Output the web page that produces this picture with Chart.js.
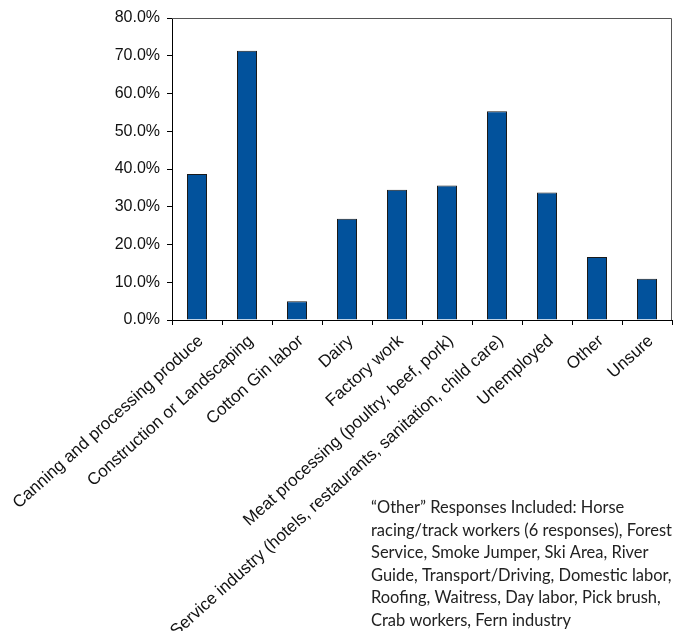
<!DOCTYPE html>
<html><head><meta charset="utf-8">
<script src="https://cdn.jsdelivr.net/npm/chart.js@4/dist/chart.umd.min.js"></script>
<style>html,body{margin:0;padding:0;background:#fff;overflow:hidden}</style>
</head><body>
<canvas id="c" width="673" height="631"></canvas>
<script>
const categories = [
  'Canning and processing produce',
  'Construction or Landscaping',
  'Cotton Gin labor',
  'Dairy',
  'Factory work',
  'Meat processing (poultry, beef, pork)',
  'Service industry (hotels, restaurants, sanitation, child care)',
  'Unemployed',
  'Other',
  'Unsure'
];
const values = [38.7, 71.3, 5.0, 26.8, 34.5, 35.6, 55.3, 33.8, 16.7, 10.9];
const yMin = 0, yMax = 80, yStep = 10;
const noteLines = [
  '\u201COther\u201D Responses Included: Horse',
  'racing/track workers (6 responses), Forest',
  'Service, Smoke Jumper, Ski Area, River',
  'Guide, Transport/Driving, Domestic labor,',
  'Roofing, Waitress, Day labor, Pick brush,',
  'Crab workers, Fern industry'
];

Chart.defaults.font.family = '"Liberation Sans", Arial, sans-serif';
Chart.defaults.color = '#111';

const framePlugin = {
  id: 'frame',
  afterDatasetsDraw(chart) {
    const {ctx, chartArea: a} = chart;
    ctx.save();
    ctx.strokeStyle = '#555';
    ctx.lineWidth = 1;
    ctx.beginPath();
    ctx.moveTo(a.left, a.top + 0.5);
    ctx.lineTo(a.right - 0.5, a.top + 0.5);
    ctx.lineTo(a.right - 0.5, a.bottom);
    ctx.stroke();
    ctx.restore();
  },
  afterDraw(chart) {
    const ctx = chart.ctx;
    ctx.save();
    ctx.fillStyle = '#222';
    ctx.font = '16px Lato';
    const w = ctx.measureText(noteLines[4]).width;
    const size = 16 * 290 / w;
    ctx.font = size.toFixed(2) + 'px Lato';
    ctx.textBaseline = 'middle';
    ctx.textAlign = 'left';
    noteLines.forEach((t, i) => ctx.fillText(t, 371, 508 + i * 22.5));
    ctx.restore();
  }
};

new Chart(document.getElementById('c'), {
  type: 'bar',
  data: {
    labels: categories,
    datasets: [{
      data: values,
      backgroundColor: '#02529c',
      borderColor: '#1a1a1a',
      borderWidth: 1,
      barPercentage: 0.4,
      categoryPercentage: 1.0
    }]
  },
  options: {
    responsive: false,
    animation: false,
    layout: {padding: {top: 18, right: 1, left: 0, bottom: 0}},
    plugins: {legend: {display: false}, tooltip: {enabled: false}},
    scales: {
      x: {
        grid: {display: true, drawOnChartArea: false, drawTicks: true, tickLength: 5, color: '#000', offset: true},
        border: {display: true, color: '#000', width: 1},
        ticks: {autoSkip: false, minRotation: 42, maxRotation: 42, padding: 6, labelOffset: 4, font: {size: 17}, color: '#111'},
        afterFit(s) { s.height = 311; s.paddingLeft = 0; s.paddingRight = 0; }
      },
      y: {
        min: yMin, max: yMax,
        grid: {display: true, drawOnChartArea: false, drawTicks: true, tickLength: 5, color: '#000'},
        border: {display: true, color: '#000', width: 1},
        ticks: {stepSize: yStep, padding: 7, font: {size: 16}, color: '#111', callback: v => v.toFixed(1) + '%'},
        afterFit(s) { s.width = 172; }
      }
    }
  },
  plugins: [framePlugin]
});
</script>
</body></html>
